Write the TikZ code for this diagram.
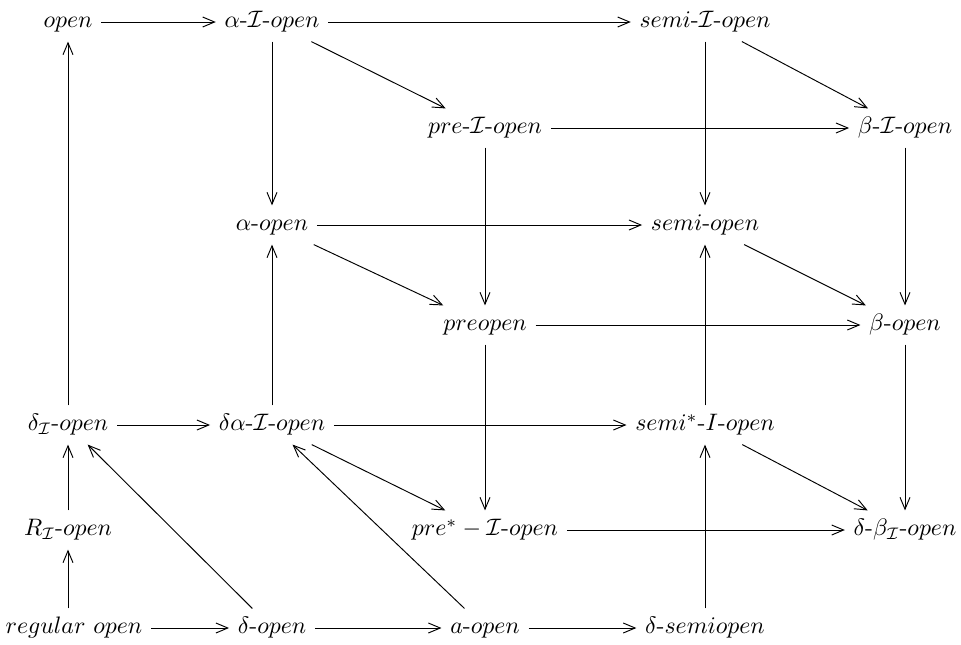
\documentclass[tikz,border=0pt]{standalone}
\usetikzlibrary{arrows.meta}
\begin{document}
\begin{tikzpicture}[x=0.42pt,y=-0.42pt,
  lbl/.style={inner sep=3.5pt, text height=1.6ex, text depth=0.5ex},
  arr/.style={-{Straight Barb[length=5pt,width=4.2pt]}, line width=0.4pt}]
\useasboundingbox (0,0) rectangle (961,644);
\node[lbl] (open) at (68,22) {$open$};
\node[lbl] (aI) at (272,22) {$\alpha$-$\mathcal{I}$-$open$};
\node[lbl] (sI) at (705,22) {$semi$-$\mathcal{I}$-$open$};
\node[lbl] (pI) at (485,128) {$pre$-$\mathcal{I}$-$open$};
\node[lbl] (bI) at (905,128) {$\beta$-$\mathcal{I}$-$open$};
\node[lbl] (ao) at (272,225) {$\alpha$-$open$};
\node[lbl] (so) at (705,225) {$semi$-$open$};
\node[lbl] (po) at (485,325) {$preopen$};
\node[lbl] (bo) at (905,325) {$\beta$-$open$};
\node[lbl] (dI) at (68,425) {$\delta_{\mathcal{I}}$-$open$};
\node[lbl] (daI) at (272,425) {$\delta\alpha$-$\mathcal{I}$-$open$};
\node[lbl] (ssI) at (705,425) {$semi^{*}$-$I$-$open$};
\node[lbl] (psI) at (485,530) {$pre^{*}-\mathcal{I}$-$open$};
\node[lbl] (dbI) at (905,530) {$\delta$-$\beta_{\mathcal{I}}$-$open$};
\node[lbl] (RI) at (68,530) {$R_{\mathcal{I}}$-$open$};
\node[lbl] (reg) at (74,628) {$regular\ open$};
\node[lbl] (do) at (272,628) {$\delta$-$open$};
\node[lbl] (aop) at (485,628) {$a$-$open$};
\node[lbl] (dso) at (705,628) {$\delta$-$semiopen$};
\draw[arr] (open) -- (aI);
\draw[arr] (aI) -- (sI);
\draw[arr] (aI) -- (pI);
\draw[arr] (aI) -- (ao);
\draw[arr] (sI) -- (bI);
\draw[arr] (sI) -- (so);
\draw[arr] (pI) -- (bI);
\draw[arr] (pI) -- (po);
\draw[arr] (bI) -- (bo);
\draw[arr] (ao) -- (so);
\draw[arr] (ao) -- (po);
\draw[arr] (so) -- (bo);
\draw[arr] (po) -- (bo);
\draw[arr] (po) -- (psI);
\draw[arr] (bo) -- (dbI);
\draw[arr] (dI) -- (open);
\draw[arr] (dI) -- (daI);
\draw[arr] (daI) -- (ao);
\draw[arr] (daI) -- (ssI);
\draw[arr] (daI) -- (psI);
\draw[arr] (ssI) -- (so);
\draw[arr] (ssI) -- (dbI);
\draw[arr] (psI) -- (dbI);
\draw[arr] (RI) -- (dI);
\draw[arr] (reg.north -| RI) -- (RI);
\draw[arr] (reg) -- (do);
\draw[arr] (do) -- (dI);
\draw[arr] (do) -- (aop);
\draw[arr] (aop) -- (daI);
\draw[arr] (aop) -- (dso);
\draw[arr] (dso) -- (ssI);
\end{tikzpicture}
\end{document}
